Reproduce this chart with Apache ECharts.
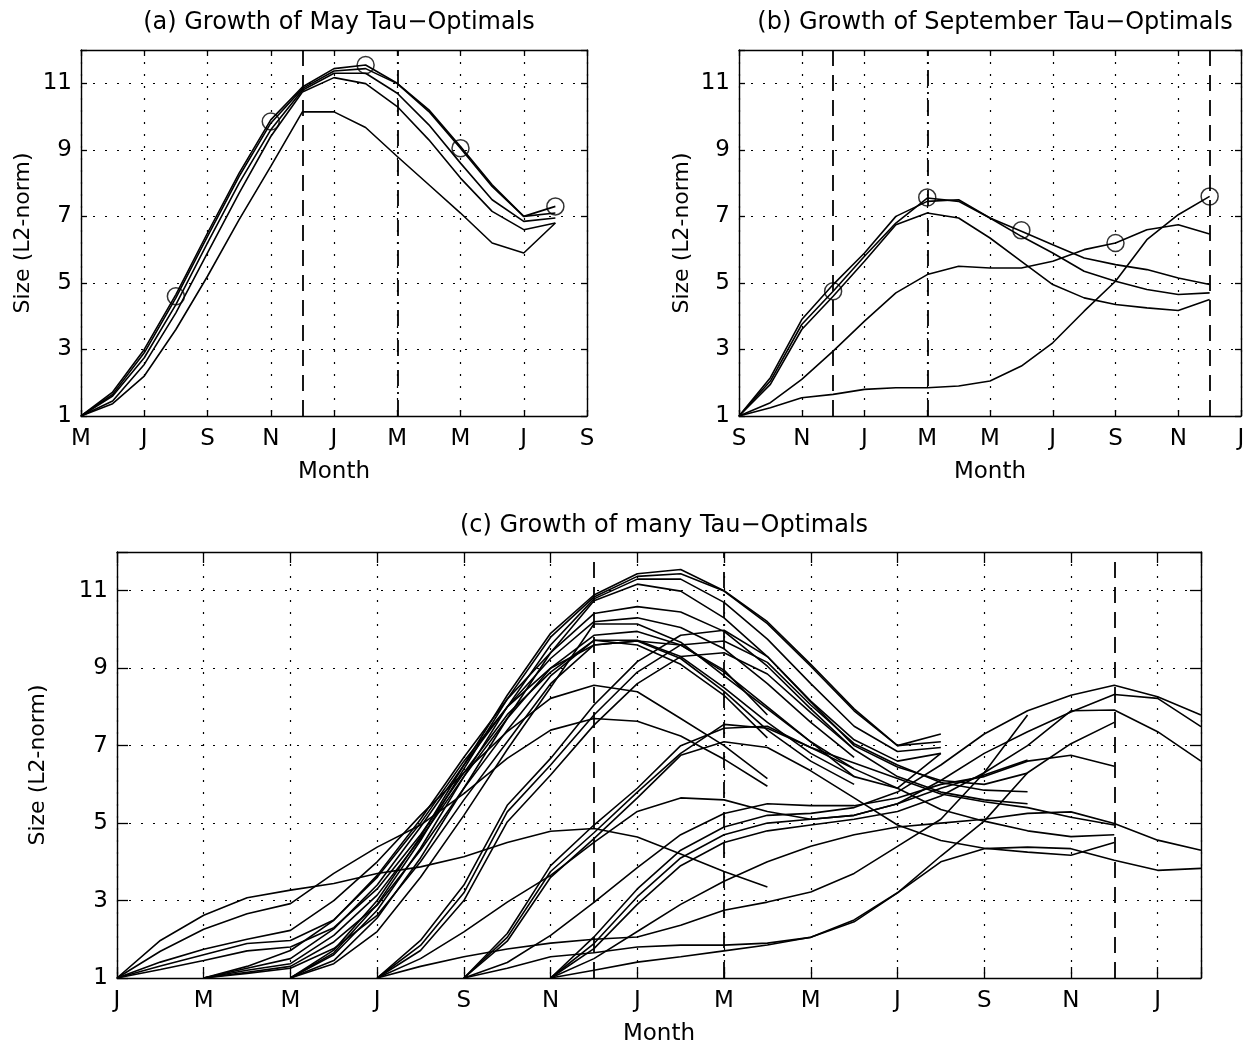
<!DOCTYPE html>
<html>
<head>
<meta charset="utf-8">
<title>Growth of Tau-Optimals</title>
<script src="https://cdn.jsdelivr.net/npm/echarts@6/dist/echarts.min.js"></script>
<style>
html, body { margin: 0; padding: 0; background: #fff; }
#chart { width: 1255px; height: 1047px; }
</style>
</head>
<body>
<div id="chart"></div>
<script>
"use strict";

// month tick labels (one every two months)
const ticksA = ['M', 'J', 'S', 'N', 'J', 'M', 'M', 'J', 'S'];
const ticksB = ['S', 'N', 'J', 'M', 'M', 'J', 'S', 'N', 'J'];
const ticksC = ['J', 'M', 'M', 'J', 'S', 'N', 'J', 'M', 'M', 'J', 'S', 'N', 'J'];
const sizeTicks = [1, 3, 5, 7, 9, 11];

// (a) May tau-optimals, monthly values from May (month 0) to month 15
const may1 = [1, 1.72, 3.0, 4.65, 6.5, 8.3, 9.9, 10.89, 11.44, 11.55, 11.0, 10.2, 9.1, 7.95, 7.0, 7.3];
const may2 = [1, 1.65, 2.9, 4.55, 6.4, 8.2, 9.8, 10.84, 11.37, 11.44, 10.99, 10.15, 9.05, 7.9, 7.0, 7.1];
const may3 = [1, 1.6, 2.75, 4.35, 6.2, 8.0, 9.6, 10.79, 11.3, 11.3, 10.7, 9.75, 8.6, 7.5, 6.85, 6.95];
const may4 = [1, 1.45, 2.55, 4.1, 5.9, 7.7, 9.4, 10.74, 11.17, 10.99, 10.3, 9.3, 8.15, 7.15, 6.6, 6.8];
const may5 = [1, 1.37, 2.2, 3.6, 5.2, 6.9, 8.5, 10.14, 10.14, 9.67, 8.8, 7.95, 7.1, 6.2, 5.9, 6.8];
const mayCircleMonth = [3, 6, 9, 12, 15];
const mayCircleSize = [4.6, 9.85, 11.55, 9.05, 7.3];

// (b) September tau-optimals, months 0..15 from September
const sep1 = [1, 2.15, 3.9, 4.95, 5.9, 7.0, 7.45, 7.5, 6.95, 6.55, 6.15, 5.75, 5.55, 5.4, 5.15, 4.95];
const sep2 = [1, 2.05, 3.75, 4.75, 5.8, 6.8, 7.55, 7.45, 6.95, 6.4, 5.9, 5.35, 5.05, 4.8, 4.65, 4.7];
const sep3 = [1, 1.95, 3.6, 4.6, 5.65, 6.75, 7.1, 6.95, 6.35, 5.65, 4.95, 4.55, 4.35, 4.25, 4.17, 4.5];
const sep4 = [1, 1.4, 2.1, 2.95, 3.85, 4.7, 5.25, 5.5, 5.45, 5.45, 5.65, 6.0, 6.2, 6.6, 6.75, 6.47];
const sep5 = [1, 1.25, 1.55, 1.65, 1.8, 1.85, 1.85, 1.9, 2.05, 2.5, 3.2, 4.15, 5.05, 6.3, 7.05, 7.6];
const sepCircleMonth = [3, 6, 9, 12, 15];
const sepCircleSize = [4.75, 7.57, 6.58, 6.2, 7.6];

// (c) extra start months (January, March, July, November), 16 monthly values each
const jan1 = [1, 1.97, 2.62, 3.07, 3.27, 3.44, 3.7, 3.87, 4.13, 4.5, 4.79, 4.86, 4.64, 4.2, 3.75, 3.35];
const jan2 = [1, 1.69, 2.26, 2.66, 2.92, 3.7, 4.38, 4.95, 5.76, 6.67, 7.4, 7.7, 7.63, 7.25, 6.65, 5.95];
const jan3 = [1, 1.41, 1.74, 2.0, 2.23, 3.0, 4.0, 5.2, 6.3, 7.36, 8.22, 8.56, 8.39, 7.7, 7.0, 6.15];
const jan4 = [1, 1.31, 1.6, 1.89, 1.97, 2.5, 3.6, 5.0, 6.6, 8.0, 9.0, 9.6, 9.7, 9.6, 8.95, 7.79];
const jan5 = [1, 1.22, 1.45, 1.7, 1.8, 2.3, 3.3, 4.7, 6.3, 7.8, 8.9, 9.72, 9.6, 9.1, 8.3, 7.2];
const mar1 = [1, 1.3, 1.71, 2.49, 3.65, 5.1, 6.7, 8.2, 9.4, 10.41, 10.59, 10.45, 9.95, 9.05, 7.95, 6.9];
const mar2 = [1, 1.25, 1.5, 2.27, 3.4, 4.9, 6.5, 8.0, 9.25, 10.2, 10.3, 10.05, 9.5, 8.6, 7.6, 6.7];
const mar3 = [1, 1.2, 1.37, 2.1, 3.14, 4.6, 6.2, 7.7, 9.0, 9.85, 9.95, 9.6, 8.9, 8.0, 7.1, 6.4];
const mar4 = [1, 1.15, 1.3, 1.93, 2.88, 4.3, 5.9, 7.4, 8.8, 9.72, 9.72, 9.3, 8.5, 7.6, 6.8, 6.2];
const mar5 = [1, 1.12, 1.25, 1.76, 2.62, 4.0, 5.6, 7.1, 8.6, 9.6, 9.7, 9.25, 8.4, 7.4, 6.6, 6.0];
const jul1 = [1, 1.97, 3.4, 5.46, 6.67, 8.05, 9.17, 9.85, 9.98, 9.3, 8.13, 7.0, 6.45, 6.1, 6.0, 6.29];
const jul2 = [1, 1.84, 3.2, 5.29, 6.5, 7.79, 8.9, 9.6, 9.7, 9.15, 8.05, 7.05, 6.5, 6.05, 5.85, 5.81];
const jul3 = [1, 1.71, 3.0, 5.03, 6.24, 7.53, 8.6, 9.3, 9.4, 8.85, 7.85, 6.9, 6.2, 5.8, 5.6, 5.5];
const jul4 = [1, 1.5, 2.19, 2.96, 3.65, 4.5, 5.3, 5.65, 5.6, 5.3, 5.1, 5.2, 5.5, 5.9, 6.24, 6.63];
const jul5 = [1, 1.3, 1.55, 1.75, 1.9, 2.0, 2.06, 2.36, 2.75, 2.96, 3.22, 3.7, 4.4, 5.1, 6.3, 7.79];
const nov1 = [1, 2.06, 3.3, 4.3, 4.9, 5.2, 5.25, 5.4, 5.8, 6.5, 7.3, 7.9, 8.3, 8.56, 8.26, 7.79];
const nov2 = [1, 1.89, 3.1, 4.1, 4.7, 5.0, 5.1, 5.2, 5.5, 6.1, 6.8, 7.36, 7.87, 8.32, 8.22, 7.49];
const nov3 = [1, 1.76, 2.9, 3.9, 4.5, 4.8, 4.95, 5.1, 5.3, 5.7, 6.3, 7.0, 7.9, 7.92, 7.36, 6.6];
const nov4 = [1, 1.5, 2.2, 2.9, 3.5, 4.0, 4.4, 4.7, 4.9, 5.0, 5.1, 5.25, 5.29, 4.99, 4.56, 4.3];
const nov5 = [1, 1.2, 1.41, 1.55, 1.7, 1.85, 2.05, 2.45, 3.2, 4.0, 4.34, 4.38, 4.34, 4.04, 3.78, 3.83];

// start month of each group in panel (c), counted from January
const groupStart = [0, 2, 4, 6, 8, 10];
const groupCurves = [
  [jan1, jan2, jan3, jan4, jan5],
  [mar1, mar2, mar3, mar4, mar5],
  [may1, may2, may3, may4, may5],
  [jul1, jul2, jul3, jul4, jul5],
  [sep1, sep2, sep3, sep4, sep5],
  [nov1, nov2, nov3, nov4, nov5]
];

// vertical reference lines (month, style)
const refA = [[7, 'dash'], [10, 'dashdot']];
const refB = [[3, 'dash'], [6, 'dashdot'], [15, 'dash']];
const refC = [[11, 'dash'], [14, 'dashdot'], [23, 'dash']];

const FONT = 'DejaVu Sans';
const BLACK = '#000';
const DASH = [16, 9];
const DASHDOT = [16, 6, 2, 6];

function xAxesFor(grid, max, labels, tickLen) {
  return [{
    type: 'value', gridIndex: grid, min: 0, max: max, interval: 2, position: 'bottom',
    axisLine: { show: true, onZero: false, lineStyle: { color: BLACK, width: 1.4 } },
    axisTick: { show: true, inside: true, length: tickLen, lineStyle: { color: BLACK, width: 1.3 } },
    axisLabel: {
      color: BLACK, fontFamily: FONT, fontSize: 23, margin: 12,
      formatter: function (v) { return v % 2 === 0 && labels[v / 2] ? labels[v / 2] : ''; }
    },
    splitLine: { show: true, lineStyle: { color: BLACK, width: 1.2, type: [2, 10] } },
    name: 'Month', nameLocation: 'middle', nameGap: 45,
    nameTextStyle: { color: BLACK, fontFamily: FONT, fontSize: 23 }
  }, {
    type: 'value', gridIndex: grid, min: 0, max: max, interval: 2, position: 'top',
    axisLine: { show: true, onZero: false, lineStyle: { color: BLACK, width: 1.4 } },
    axisTick: { show: true, inside: true, length: tickLen, lineStyle: { color: BLACK, width: 1.3 } },
    axisLabel: { show: false },
    splitLine: { show: false }
  }];
}

function yAxesFor(grid, tickLen, nameGap) {
  return [{
    type: 'value', gridIndex: grid, min: 1, max: 12, interval: 2, position: 'left',
    axisLine: { show: true, onZero: false, lineStyle: { color: BLACK, width: 1.4 } },
    axisTick: { show: true, inside: true, length: tickLen, lineStyle: { color: BLACK, width: 1.3 } },
    axisLabel: {
      color: BLACK, fontFamily: FONT, fontSize: 23, margin: 9,
      formatter: function (v) { return sizeTicks.indexOf(v) >= 0 ? String(v) : ''; }
    },
    splitLine: { show: true, lineStyle: { color: BLACK, width: 1.2, type: [2, 10] } },
    name: 'Size (L2-norm)', nameLocation: 'middle', nameGap: nameGap,
    nameTextStyle: { color: BLACK, fontFamily: FONT, fontSize: 22 }
  }, {
    type: 'value', gridIndex: grid, min: 1, max: 12, interval: 2, position: 'right',
    axisLine: { show: true, onZero: false, lineStyle: { color: BLACK, width: 1.4 } },
    axisTick: { show: true, inside: true, length: tickLen, lineStyle: { color: BLACK, width: 1.3 } },
    axisLabel: { show: false },
    splitLine: { show: false }
  }];
}

function curve(values, start, axisIdx) {
  return {
    type: 'line', xAxisIndex: axisIdx, yAxisIndex: axisIdx,
    data: values.map(function (v, i) { return [start + i, v]; }),
    symbol: 'none', showSymbol: false, silent: true, z: 3,
    lineStyle: { color: BLACK, width: 1.6 }
  };
}

function refLines(refs, axisIdx) {
  return {
    type: 'line', xAxisIndex: axisIdx, yAxisIndex: axisIdx, data: [], silent: true,
    markLine: {
      silent: true, symbol: ['none', 'none'], label: { show: false }, animation: false,
      data: refs.map(function (r) {
        return { xAxis: r[0], lineStyle: { color: BLACK, width: 1.8, type: r[1] === 'dash' ? DASH : DASHDOT } };
      })
    }
  };
}

function circles(months, sizes, axisIdx) {
  return {
    type: 'scatter', xAxisIndex: axisIdx, yAxisIndex: axisIdx, silent: true, z: 4,
    data: months.map(function (m, i) { return [m, sizes[i]]; }),
    symbol: 'circle', symbolSize: 17,
    itemStyle: { color: 'rgba(0,0,0,0)', borderColor: BLACK, borderWidth: 1.5 }
  };
}

const series = [];
[may1, may2, may3, may4, may5].forEach(function (c) { series.push(curve(c, 0, 0)); });
series.push(circles(mayCircleMonth, mayCircleSize, 0));
series.push(refLines(refA, 0));
[sep1, sep2, sep3, sep4, sep5].forEach(function (c) { series.push(curve(c, 0, 2)); });
series.push(circles(sepCircleMonth, sepCircleSize, 2));
series.push(refLines(refB, 2));
groupCurves.forEach(function (g, gi) {
  g.forEach(function (c) { series.push(curve(c, groupStart[gi], 4)); });
});
series.push(refLines(refC, 4));

const titleStyle = { color: BLACK, fontFamily: FONT, fontSize: 24, fontWeight: 'normal' };

const option = {
  backgroundColor: '#fff',
  animation: false,
  title: [
    { text: '(a) Growth of May Tau\u2212Optimals', left: 334, top: 6, textAlign: 'center', textStyle: titleStyle },
    { text: '(b) Growth of September Tau\u2212Optimals', left: 990, top: 6, textAlign: 'center', textStyle: titleStyle },
    { text: '(c) Growth of many Tau\u2212Optimals', left: 659, top: 509, textAlign: 'center', textStyle: titleStyle }
  ],
  grid: [
    { left: 81, top: 50, width: 506, height: 366 },
    { left: 739, top: 50, width: 502, height: 366 },
    { left: 117, top: 552, width: 1084, height: 426 }
  ],
  xAxis: [].concat(xAxesFor(0, 16, ticksA, 6), xAxesFor(1, 16, ticksB, 6), xAxesFor(2, 25, ticksC, 11)),
  yAxis: [].concat(yAxesFor(0, 6, 47), yAxesFor(1, 6, 46), yAxesFor(2, 11, 68)),
  series: series
};

const chart = echarts.init(document.getElementById('chart'), null, { renderer: 'canvas' });
chart.setOption(option);
</script>
</body>
</html>
